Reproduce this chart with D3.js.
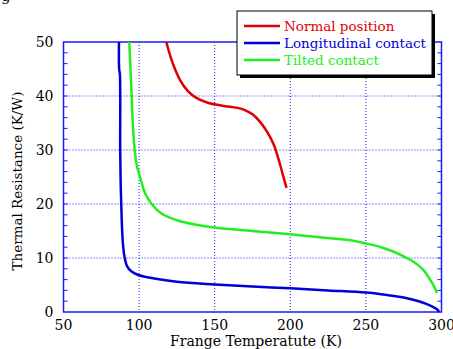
<!DOCTYPE html>
<html>
  <head>
    <meta charset="utf-8" />
    <script src="https://d3js.org/d3.v7.min.js"></script>
    <style>
      body { margin: 0; background: #fff; }
      text { font-family: "DejaVu Serif", "Liberation Serif", serif; }
    </style>
  </head>
  <body>
    <script>
      // series: [temperature K, resistance K/W]
      const normalPos = [
        [118, 50], [120, 48], [123, 45.5], [127, 43], [132, 41], [137, 39.8],
        [145, 38.8], [155, 38.2], [165, 37.8], [170, 37.4], [175, 36.6], [180, 35.2],
        [185, 33.2], [189, 31], [192, 28.5], [195, 25.5], [197.5, 23]
      ];
      const longContact = [
        [86.7, 50], [86.8, 45], [87.3, 44], [87.5, 30], [87.8, 24], [88.2, 20],
        [88.8, 15], [89.5, 12], [90.5, 10], [92, 8.5], [95, 7.5], [100, 6.8],
        [110, 6.2], [125, 5.6], [150, 5.1], [175, 4.7], [200, 4.4], [225, 4.0],
        [250, 3.6], [265, 3.1], [275, 2.7], [285, 2.0], [290, 1.5], [294, 1.0],
        [297, 0.5], [298.5, 0]
      ];
      const tiltedContact = [
        [93.5, 50], [94.3, 45], [95.1, 40], [95.8, 35], [97.1, 30], [98.6, 27],
        [100.6, 25], [104, 22], [108.3, 20], [115, 18.2], [125, 17], [137, 16.2],
        [151, 15.6], [175, 15], [200, 14.4], [228, 13.6], [240, 13.3], [250, 12.7],
        [260, 12], [268, 11.2], [275, 10.3], [281, 9.4], [288, 7.8], [292, 6.2],
        [295, 4.8], [297, 3.5]
      ];
      const seriesNames = ["Normal position", "Longitudinal contact", "Tilted contact"];
      const seriesColors = ["#e00000", "#0000d8", "#22ee22"];
      const xTicks = [50, 100, 150, 200, 250, 300];
      const yTicks = [0, 10, 20, 30, 40, 50];

      const width = 453, height = 349;
      const pLeft = 63.5, pRight = 441.5, pTop = 42, pBottom = 312;

      const svg = d3.select("body").append("svg")
        .attr("width", width)
        .attr("height", height);

      const x = d3.scaleLinear().domain([50, 300]).range([pLeft, pRight]);
      const y = d3.scaleLinear().domain([0, 50]).range([pBottom, pTop]);
      const axisColor = "#1a1aff";

      // cut-off letter at the top-left corner of the original figure
      svg.append("text")
        .attr("x", 1).attr("y", 1)
        .attr("font-size", 15)
        .text("g");

      // dotted grid
      svg.append("g").selectAll("line")
        .data(xTicks.slice(1, -1))
        .join("line")
        .attr("x1", d => x(d)).attr("x2", d => x(d))
        .attr("y1", pTop).attr("y2", pBottom)
        .attr("stroke", axisColor).attr("stroke-width", 1)
        .attr("stroke-dasharray", "1,2");
      svg.append("g").selectAll("line")
        .data(yTicks.slice(1, -1))
        .join("line")
        .attr("x1", pLeft).attr("x2", pRight)
        .attr("y1", d => y(d)).attr("y2", d => y(d))
        .attr("stroke", axisColor).attr("stroke-width", 1)
        .attr("stroke-dasharray", "1,2");

      // frame
      svg.append("rect")
        .attr("x", pLeft).attr("y", pTop)
        .attr("width", pRight - pLeft).attr("height", pBottom - pTop)
        .attr("fill", "none").attr("stroke", axisColor).attr("stroke-width", 1.5);

      // minor ticks on y, both sides, inward
      const yMinor = d3.range(2, 50, 2);
      svg.append("g").selectAll("line")
        .data(yMinor)
        .join("line")
        .attr("x1", pLeft).attr("x2", pLeft + 4)
        .attr("y1", d => y(d)).attr("y2", d => y(d))
        .attr("stroke", axisColor);
      svg.append("g").selectAll("line")
        .data(yMinor)
        .join("line")
        .attr("x1", pRight - 4).attr("x2", pRight)
        .attr("y1", d => y(d)).attr("y2", d => y(d))
        .attr("stroke", axisColor);

      // tick labels
      svg.append("g").selectAll("text")
        .data(xTicks)
        .join("text")
        .attr("x", d => x(d)).attr("y", pBottom + 18)
        .attr("text-anchor", "middle")
        .attr("font-size", 14)
        .text(d => d);
      svg.append("g").selectAll("text")
        .data(yTicks)
        .join("text")
        .attr("x", pLeft - 10).attr("y", d => y(d) + 5)
        .attr("text-anchor", "end")
        .attr("font-size", 14)
        .text(d => d);

      // axis titles
      svg.append("text")
        .attr("x", 256).attr("y", 346)
        .attr("text-anchor", "middle")
        .attr("font-size", 14)
        .text("Frange Temperatute (K)");
      svg.append("text")
        .attr("transform", "translate(22,181) rotate(-90)")
        .attr("text-anchor", "middle")
        .attr("font-size", 13.5)
        .text("Thermal Resistance (K/W)");

      // curves
      const line = d3.line().x(d => x(d[0])).y(d => y(d[1])).curve(d3.curveCatmullRom);
      [normalPos, longContact, tiltedContact].forEach((data, i) => {
        svg.append("path")
          .datum(data)
          .attr("d", line)
          .attr("fill", "none")
          .attr("stroke", seriesColors[i])
          .attr("stroke-width", 2.5);
      });

      // legend with shadow
      const lg = svg.append("g").attr("transform", "translate(237,11)");
      lg.append("rect")
        .attr("x", 3).attr("y", 3).attr("width", 195).attr("height", 64)
        .attr("fill", "#000");
      lg.append("rect")
        .attr("x", 0).attr("y", 0).attr("width", 195).attr("height", 64)
        .attr("fill", "#fff").attr("stroke", "#000").attr("stroke-width", 1);
      seriesNames.forEach((name, i) => {
        const yy = 15 + i * 17;
        lg.append("line")
          .attr("x1", 7).attr("x2", 43)
          .attr("y1", yy).attr("y2", yy)
          .attr("stroke", seriesColors[i]).attr("stroke-width", 2.5);
        lg.append("text")
          .attr("x", 47).attr("y", yy + 5)
          .attr("font-size", 13.5)
          .attr("fill", seriesColors[i])
          .text(name);
      });
    </script>
  </body>
</html>
